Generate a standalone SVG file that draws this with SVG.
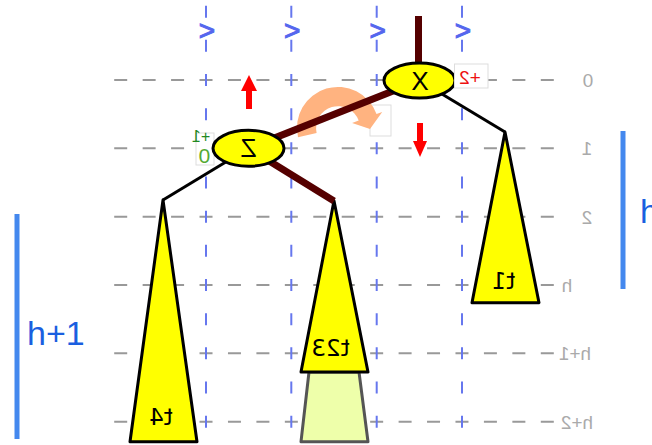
<svg xmlns="http://www.w3.org/2000/svg" width="652" height="445" viewBox="0 0 652 445">
<style>
.hg{stroke:#999;stroke-width:2;stroke-dasharray:13 15.44;fill:none}
.vg{stroke:#6677ee;stroke-width:2;stroke-dasharray:12 22.17;fill:none}
.chev{font-family:"Liberation Sans",Arial,sans-serif;font-size:28px;fill:#5566ee;stroke:#5566ee;stroke-width:1;text-anchor:middle}
.lvl{font-family:"Liberation Sans",Arial,sans-serif;font-size:19px;fill:#aaa;text-anchor:middle}
.tri{fill:#ffff00;stroke:#000;stroke-width:3;stroke-linejoin:round}
.tl{font-family:"DejaVu Sans",sans-serif;font-size:23px;fill:#000;text-anchor:middle}
.node{fill:#ffff00;stroke:#000;stroke-width:3}
.nl{font-family:"Liberation Sans",Arial,sans-serif;font-size:26px;fill:#000;text-anchor:middle}
.thick{stroke:#550000;stroke-width:7;fill:none}
.thin{stroke:#000;stroke-width:3;fill:none}
.box{fill:#fff;stroke:#ddd;stroke-width:1}
.bar{stroke:#4488ee;stroke-width:5}
.ht{font-family:"Liberation Sans",Arial,sans-serif;font-size:34px;fill:#1a5fe0}
</style>
<g id="grid">
<line class="hg" x1="114.2" y1="80" x2="553.8" y2="80"/>
<line class="hg" x1="114.2" y1="148.3" x2="553.8" y2="148.3"/>
<line class="hg" x1="114.2" y1="216.7" x2="553.8" y2="216.7"/>
<line class="hg" x1="114.2" y1="285" x2="553.8" y2="285"/>
<line class="hg" x1="114.2" y1="353.3" x2="553.8" y2="353.3"/>
<line class="hg" x1="114.2" y1="421.7" x2="553.8" y2="421.7"/>
<line class="vg" x1="206" y1="5.66" x2="206" y2="445"/>
<line class="vg" x1="291.3" y1="5.66" x2="291.3" y2="445"/>
<line class="vg" x1="376.7" y1="5.66" x2="376.7" y2="445"/>
<line class="vg" x1="462" y1="5.66" x2="462" y2="445"/>
<text class="chev" x="207" y="40">&gt;</text>
<text class="chev" x="292.3" y="40">&gt;</text>
<text class="chev" x="377.7" y="40">&gt;</text>
<text class="chev" x="463" y="40">&gt;</text>
<text class="lvl" transform="translate(588,87) scale(-1,1)">0</text>
<text class="lvl" transform="translate(587,155) scale(-1,1)">1</text>
<text class="lvl" transform="translate(587,223.5) scale(-1,1)">2</text>
<text class="lvl" transform="translate(567,292) scale(-1,1)">h</text>
<text class="lvl" transform="translate(575,360) scale(-1,1)">h+1</text>
<text class="lvl" transform="translate(577,428.5) scale(-1,1)">h+2</text>
</g>
<g id="bars">
<line class="bar" x1="17" y1="214" x2="17" y2="439"/>
<text class="ht" x="27" y="345">h+1</text>
<line class="bar" x1="623" y1="131" x2="623" y2="289"/>
<text class="ht" x="640" y="223">h</text>
</g>
<g id="t23ext">
<polygon points="309,372 359,372 368,441.7 301,441.7" fill="#eeffaa" stroke="#555" stroke-width="3" stroke-linejoin="round"/>
</g>
<g id="t4">
<polygon class="tri" points="163,200 197,441.7 130,441.7"/>
<text class="tl" transform="translate(161,425) scale(-1,1)">t4</text>
</g>
<g id="t23">
<polygon class="tri" points="334,200.7 368,372 301,372"/>
<text class="tl" transform="translate(330.5,356) scale(-1,1)">t23</text>
</g>
<g id="t1">
<polygon class="tri" points="505,132 539,302.7 472,302.7"/>
<text class="tl" transform="translate(503.5,288.5) scale(-1,1)">t1</text>
</g>
<g id="rotation">
<rect class="box" x="370" y="105" width="21" height="31" fill="none"/>
<path d="M298,137.2 A41 41 0 0 1 376.5,114 L382.2,111.9 L370,129 L352.1,122.9 L358.7,120.5 A22 22 0 0 0 316.6,132.9 Z" fill="#ffb380"/>
<polygon points="246,109 252,109 252,91 257,91 249,75 241,91 246,91" fill="#ff0000"/>
<polygon points="417,123 423,123 423,141 427,141 420,157 413,141 417,141" fill="#ff0000"/>
</g>
<g id="connectors">
<line class="thick" x1="418.5" y1="16" x2="418.5" y2="70"/>
<line class="thick" x1="419.5" y1="80.5" x2="248.5" y2="148.3"/>
<line class="thick" x1="248.5" y1="148.3" x2="334" y2="201"/>
<line class="thin" x1="248.5" y1="148.3" x2="163" y2="200"/>
<line class="thin" x1="419.5" y1="80.5" x2="505" y2="132"/>
</g>
<g id="X">
<ellipse class="node" cx="419.5" cy="80.5" rx="35.5" ry="17.5"/>
<text class="nl" transform="translate(420,90) scale(-1,1)">X</text>
<rect class="box" x="454.5" y="64" width="33.5" height="24"/>
<text transform="translate(470,84) scale(-1,1)" font-family="Liberation Sans,Arial,sans-serif" font-size="19" fill="#ee1111" text-anchor="middle">+2</text>
</g>
<g id="Z">
<rect class="box" x="196" y="133" width="18" height="32"/>
<ellipse class="node" cx="248.5" cy="148.3" rx="35.5" ry="18"/>
<text class="nl" transform="translate(248.5,157) scale(-1,1)">Z</text>
<text transform="translate(201,142) scale(-1,1)" font-family="Liberation Sans,Arial,sans-serif" font-size="16" fill="#228822" text-anchor="middle">+1</text>
<text transform="translate(204.5,163) scale(-1,1)" font-family="Liberation Sans,Arial,sans-serif" font-size="21" fill="#55aa33" text-anchor="middle">0</text>
</g>
</svg>
